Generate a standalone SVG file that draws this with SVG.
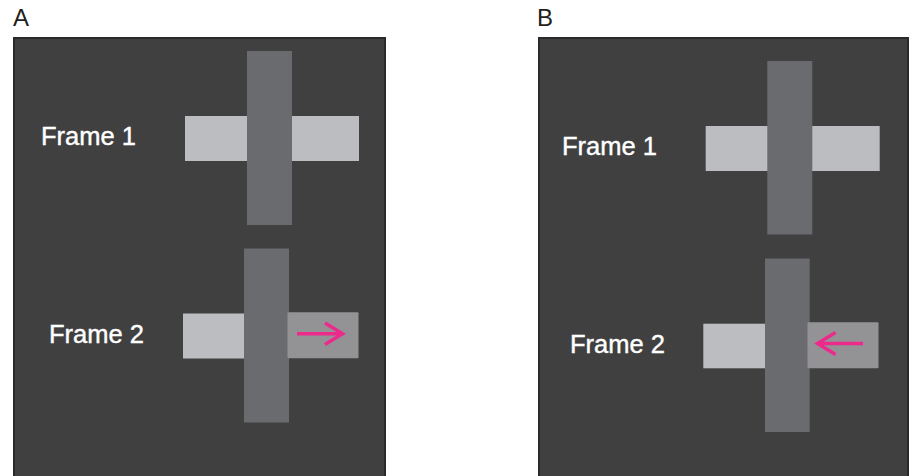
<svg xmlns="http://www.w3.org/2000/svg" width="909" height="476" viewBox="0 0 909 476">
  <style>
    .panel { fill: #404040; stroke: #2a2a2a; stroke-width: 2; }
    .hbar { fill: #bcbdc0; }
    .vbar { fill: #6a6b6f; }
    .moved { fill: #939396; }
    .label { font-family: "Liberation Sans", Arial, sans-serif; font-size: 24px; fill: #231f20; }
    .frame { font-family: "Liberation Sans", Arial, sans-serif; font-size: 25.5px; fill: #ffffff; stroke: #ffffff; stroke-width: 0.4; }
    .motion { fill: none; stroke: #ec2a8c; stroke-width: 3.5; stroke-linecap: butt; stroke-linejoin: miter; }
  </style>

  <!-- Panel A: the moving piece shifts to the right -->
  <g id="panelA">
    <text class="label" x="13" y="26">A</text>
    <rect class="panel" x="14" y="38" width="371" height="446"/>
    <g id="A-frame1">
      <text class="frame" x="41" y="145">Frame 1</text>
      <rect class="hbar" x="185" y="116" width="174" height="45"/>
      <rect class="vbar" x="247" y="51" width="45" height="174"/>
    </g>
    <g id="A-frame2">
      <text class="frame" x="49" y="343">Frame 2</text>
      <rect class="hbar" x="183" y="313.5" width="62" height="45"/>
      <rect class="vbar" x="244" y="248.5" width="45" height="174"/>
      <rect class="moved" x="287.5" y="312.3" width="71" height="46" rx="1"/>
    </g>
  </g>

  <!-- Panel B: the moving piece shifts to the left -->
  <g id="panelB">
    <text class="label" x="537" y="26">B</text>
    <rect class="panel" x="539" y="38" width="369" height="446"/>
    <g id="B-frame1">
      <text class="frame" x="562" y="155">Frame 1</text>
      <rect class="hbar" x="705.7" y="126" width="174" height="45"/>
      <rect class="vbar" x="767.3" y="61" width="45" height="173.5"/>
    </g>
    <g id="B-frame2">
      <text class="frame" x="570" y="352.5">Frame 2</text>
      <rect class="hbar" x="703.3" y="323.7" width="62" height="44.6"/>
      <rect class="vbar" x="765" y="258.5" width="44.7" height="173.5"/>
      <rect class="moved" x="807.5" y="322.3" width="71" height="46" rx="1"/>
    </g>
  </g>

  <!-- motion arrows -->
  <g id="connectors">
    <path class="motion" d="M297 333.7 H341.5 M325 323 L342.5 333.7 L325 344.4"/>
    <path class="motion" d="M863 343.5 H818.5 M835.5 332.5 L817.5 343.5 L835.5 354.5"/>
  </g>
</svg>
